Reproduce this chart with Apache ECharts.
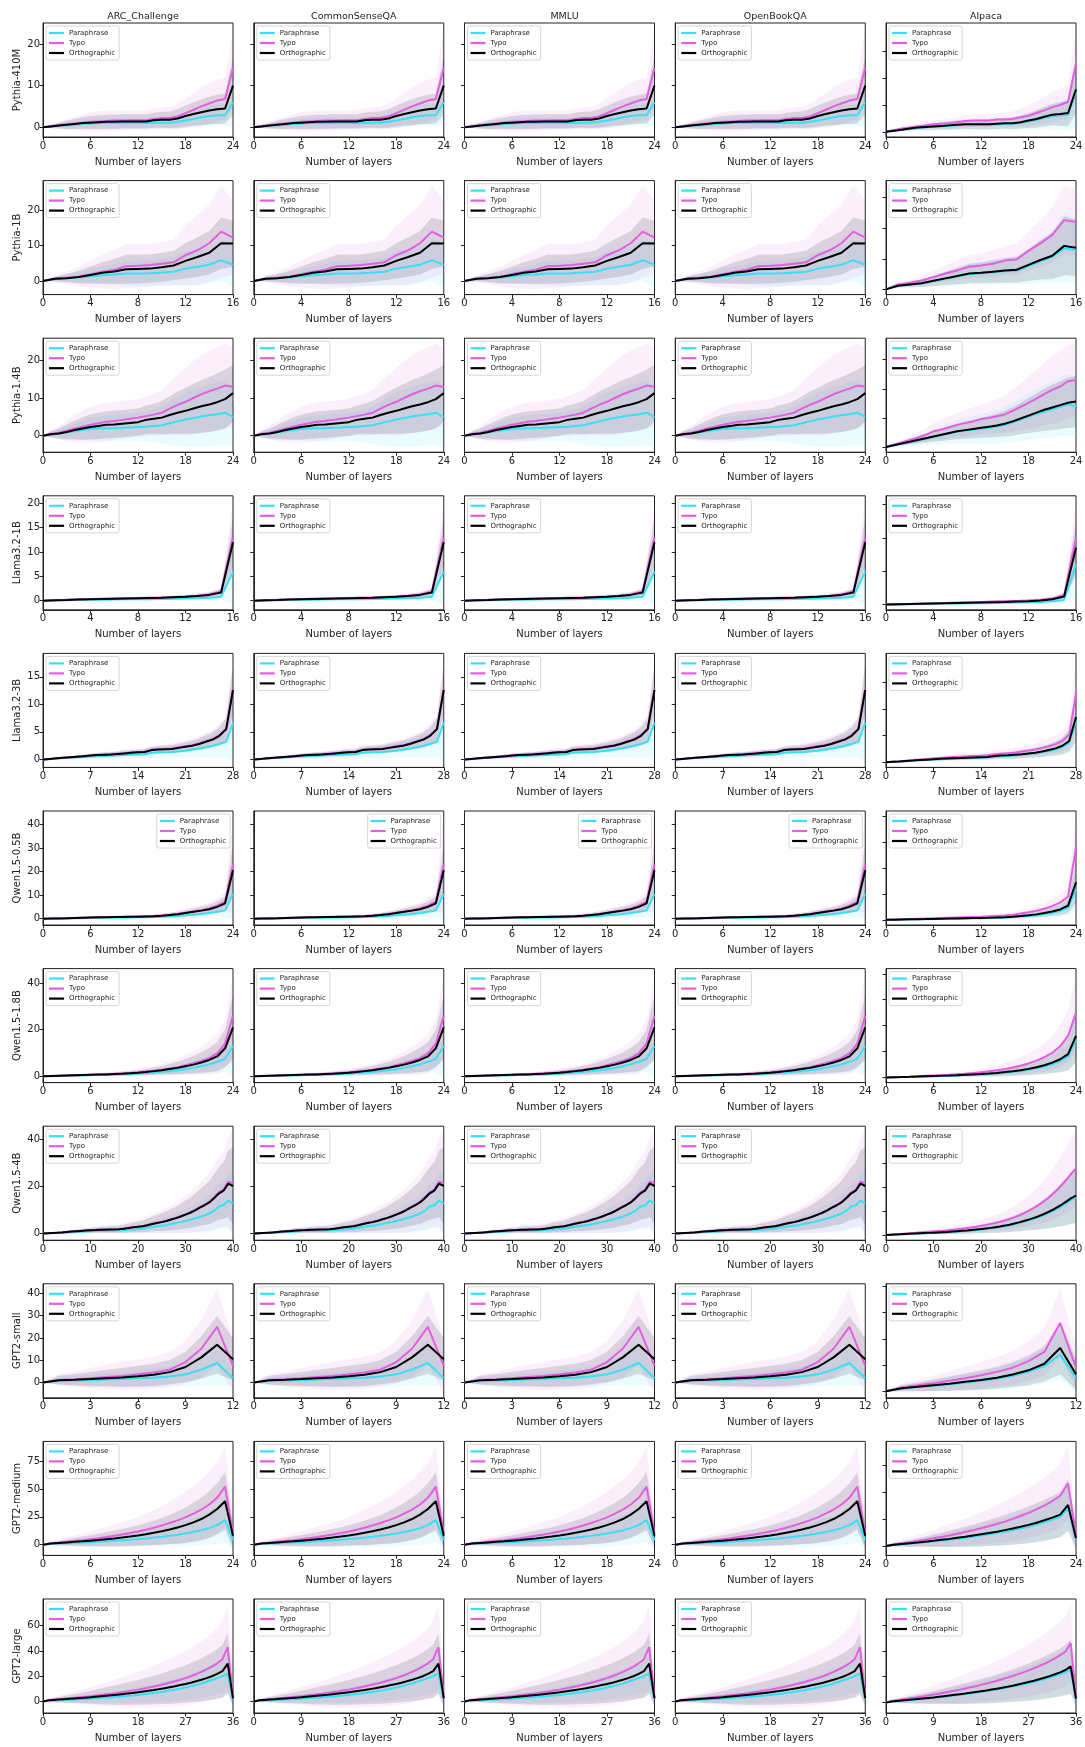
<!DOCTYPE html>
<html>
<head>
<meta charset="utf-8">
<script src="https://cdn.jsdelivr.net/npm/echarts@6/dist/echarts.min.js"></script>
<style>
  html, body { margin: 0; background: #fff; }
  #chart { width: 1085px; height: 1747px; }
</style>
</head>
<body>
<div id="chart"></div>
<script>
const TASKS  = ['ARC_Challenge', 'CommonSenseQA', 'MMLU', 'OpenBookQA', 'Alpaca'];
const MODELS = ['Pythia-410M', 'Pythia-1B', 'Pythia-1.4B', 'Llama3.2-1B', 'Llama3.2-3B',
                'Qwen1.5-0.5B', 'Qwen1.5-1.8B', 'Qwen1.5-4B', 'GPT2-small', 'GPT2-medium', 'GPT2-large'];
const LAYERS = [24, 16, 24, 16, 28, 24, 24, 40, 12, 24, 36];
const LEGEND_NAMES = ['Paraphrase', 'Typo', 'Orthographic'];

// y tick values (labels only drawn on the first column)
const Y_TICKS = [[0,10,20],[0,10,20],[0,10,20],[0,5,10,15,20],[0,5,10,15],[0,10,20,30,40],
                 [0,20,40],[0,20,40],[0,10,20,30,40],[0,25,50,75],[0,20,40,60]];
const Y_TICKS_ALPACA = [[0,5,10,15],[0,5,10,15],[0,5,10,15],[0,5,10,15],[0,5,10,15],[0,10,20,30,40],
                        [0,10,20,30,40],[0,10,20,30,40],[0,10,20,30,40],[0,25,50,75],[0,20,40,60]];

// ---- QA tasks (mean / std per layer) ----
const p410_para    = [0,0.2,0.4,0.5,0.6, 0.8,0.9,1.0,1.0,1.0, 1.0,1.0,1.0,1.0,1.0, 1.1,1.1,1.3,1.6,2.0, 2.4,2.7,2.9,2.9,6.0];
const p410_para_sd = [0,0.3,0.5,0.7,0.9, 1.0,1.1,1.2,1.2,1.3, 1.3,1.3,1.3,1.3,1.4, 1.4,1.5,1.6,1.8,2.0, 2.2,2.4,2.6,2.7,5.5];
const p410_typo    = [0,0.3,0.5,0.7,0.9, 1.1,1.3,1.4,1.5,1.6, 1.6,1.7,1.7,1.7,2.0, 2.2,2.2,2.6,3.4,4.2, 5.0,5.7,6.4,6.8,14.3];
const p410_typo_sd = [0,0.5,0.9,1.3,1.6, 2.0,2.3,2.5,2.5,2.4, 2.4,2.3,2.3,2.3,2.5, 2.6,2.7,3.0,3.5,4.0, 4.5,4.9,5.1,5.0,9.5];
const p410_orth    = [0,0.2,0.4,0.6,0.8, 1.0,1.1,1.2,1.3,1.3, 1.4,1.4,1.4,1.4,1.7, 1.8,1.8,2.1,2.7,3.2, 3.6,4.0,4.3,4.5,10.0];
const p410_orth_sd = [0,0.4,0.7,1.0,1.2, 1.4,1.6,1.7,1.7,1.7, 1.7,1.7,1.7,1.7,1.8, 1.9,2.0,2.2,2.5,2.8, 3.1,3.3,3.5,3.6,7.0];

const p1b_para    = [0,0.5,0.8,1.0,1.3, 1.6,1.8,2.1,2.1,2.2, 2.4,2.6,3.5,4.0,4.6, 5.9,4.6];
const p1b_para_sd = [0,0.6,1.0,1.5,2.0, 2.5,3.0,3.5,3.6,3.7, 3.8,4.0,4.8,5.0,5.2, 5.8,6.5];
const p1b_typo    = [0,0.6,0.9,1.2,1.9, 2.6,3.2,4.2,4.3,4.5, 4.9,5.3,7.3,8.7,10.7, 14.0,12.3];
const p1b_typo_sd = [0,1.0,1.8,2.8,3.8, 4.8,5.6,6.3,6.2,6.0, 6.2,6.4,8.5,10.0,11.0, 13.0,10.5];
const p1b_orth    = [0,0.6,0.8,1.1,1.7, 2.3,2.7,3.3,3.4,3.5, 3.9,4.4,5.7,6.8,8.0, 10.7,10.6];
const p1b_orth_sd = [0,0.7,1.2,1.8,2.4, 3.0,3.5,4.1,4.1,4.0, 4.1,4.2,5.0,5.6,6.2, 7.3,6.5];

const p14b_para    = [0,0.4,0.6,0.9,1.2, 1.5,1.8,1.9,2.0,2.0, 2.1,2.2,2.3,2.4,2.6, 2.8,3.3,3.8,4.3,4.7, 5.1,5.4,5.7,6.1,5.0];
const p14b_para_sd = [0,0.6,1.0,1.5,2.0, 2.5,3.0,3.2,3.4,3.5, 3.6,3.7,3.8,4.0,4.4, 5.0,5.8,6.6,7.2,7.6, 8.0,8.2,8.4,8.6,8.0];
const p14b_typo    = [0,0.5,0.8,1.3,1.9, 2.4,2.9,3.3,3.7,3.9, 4.2,4.5,4.8,5.2,5.6, 6.1,7.2,8.2,9.0,10.0, 11.0,11.8,12.5,13.3,13.0];
const p14b_typo_sd = [0,1.0,1.8,2.8,3.6, 4.3,4.8,5.0,5.1,5.1, 5.0,5.0,5.0,5.3,5.6, 6.0,7.0,8.0,9.0,9.8, 10.4,10.8,11.0,11.2,10.5];
const p14b_orth    = [0,0.4,0.6,1.0,1.5, 1.9,2.3,2.6,2.9,3.0, 3.2,3.4,3.6,4.2,4.5, 4.8,5.5,6.1,6.6,7.2, 7.8,8.3,8.9,9.7,11.3];
const p14b_orth_sd = [0,0.8,1.4,2.0,2.5, 3.0,3.3,3.5,3.6,3.6, 3.6,3.6,3.6,3.8,4.0, 4.4,5.0,5.6,6.1,6.6, 7.0,7.3,7.6,7.8,7.5];

const l1b_para    = [0,0.05,0.1,0.15,0.2, 0.22,0.25,0.28,0.3,0.32, 0.35,0.4,0.45,0.5,0.6, 0.8,6.0];
const l1b_para_sd = [0,0.05,0.08,0.1,0.12, 0.14,0.16,0.18,0.2,0.22, 0.24,0.27,0.3,0.35,0.4, 0.6,6.8];
const l1b_typo    = [0,0.1,0.2,0.3,0.35, 0.4,0.45,0.5,0.55,0.6, 0.65,0.75,0.85,1.0,1.3, 1.9,13.0];
const l1b_typo_sd = [0,0.05,0.1,0.12,0.15, 0.18,0.2,0.22,0.25,0.28, 0.3,0.35,0.4,0.45,0.55, 0.8,7.5];
const l1b_orth    = [0,0.1,0.15,0.25,0.3, 0.35,0.4,0.45,0.5,0.55, 0.6,0.7,0.8,0.95,1.2, 1.7,12.0];
const l1b_orth_sd = [0,0.05,0.08,0.1,0.12, 0.15,0.17,0.2,0.22,0.25, 0.27,0.3,0.35,0.4,0.5, 0.7,5.0];

const l3b_para    = [0,0.08,0.15,0.25,0.3, 0.4,0.45,0.55,0.6,0.65, 0.7,0.75,0.8,0.85,0.9, 0.95,1.2,1.25,1.3,1.35, 1.5,1.6,1.8,2.0,2.2, 2.5,2.8,3.2,6.7];
const l3b_para_sd = [0,0.08,0.15,0.22,0.28, 0.34,0.4,0.45,0.5,0.55, 0.58,0.62,0.66,0.7,0.74, 0.78,0.9,0.95,1.0,1.05, 1.15,1.25,1.4,1.55,1.75, 2.0,2.3,2.7,7.2];
const l3b_typo    = [0,0.1,0.2,0.3,0.4, 0.5,0.6,0.7,0.8,0.85, 0.95,1.05,1.15,1.25,1.35, 1.4,1.75,1.85,1.9,2.0, 2.2,2.4,2.6,2.9,3.3, 3.7,4.4,5.6,12.8];
const l3b_typo_sd = [0,0.1,0.15,0.2,0.25, 0.3,0.35,0.4,0.45,0.5, 0.52,0.55,0.6,0.62,0.65, 0.7,0.75,0.8,0.85,0.9, 1.0,1.1,1.2,1.3,1.5, 1.7,2.0,2.5,5.5];
const l3b_orth    = [0,0.1,0.2,0.3,0.4, 0.5,0.6,0.7,0.8,0.85, 0.9,1.0,1.1,1.2,1.3, 1.35,1.7,1.8,1.85,1.9, 2.1,2.3,2.5,2.8,3.2, 3.6,4.3,5.5,12.6];
const l3b_orth_sd = [0,0.08,0.12,0.16,0.2, 0.24,0.28,0.32,0.36,0.4, 0.42,0.44,0.48,0.5,0.52, 0.56,0.6,0.64,0.68,0.72, 0.8,0.88,0.96,1.05,1.2, 1.35,1.6,2.0,4.4];

const q05_para    = [0,0.03,0.06,0.1,0.15, 0.2,0.25,0.3,0.35,0.4, 0.45,0.5,0.55,0.6,0.65, 0.75,0.9,1.1,1.4,1.7, 2.0,2.4,2.9,3.4,10.5];
const q05_para_sd = [0,0.03,0.06,0.1,0.14, 0.18,0.22,0.26,0.3,0.34, 0.38,0.42,0.46,0.5,0.55, 0.62,0.75,0.9,1.1,1.35, 1.6,1.9,2.3,2.8,11.0];
const q05_typo    = [0,0.05,0.12,0.2,0.3, 0.4,0.5,0.6,0.65,0.7, 0.75,0.8,0.9,1.0,1.1, 1.3,1.6,2.0,2.5,3.0, 3.6,4.3,5.5,7.2,23.0];
const q05_typo_sd = [0,0.05,0.1,0.15,0.2, 0.25,0.3,0.35,0.4,0.45, 0.5,0.55,0.6,0.7,0.8, 0.9,1.1,1.3,1.6,1.9, 2.2,2.6,3.2,4.0,20.5];
const q05_orth    = [0,0.05,0.1,0.15,0.25, 0.35,0.45,0.55,0.6,0.65, 0.7,0.75,0.8,0.9,1.0, 1.2,1.5,1.9,2.4,2.9, 3.4,4.0,5.0,6.5,20.5];
const q05_orth_sd = [0,0.04,0.08,0.12,0.16, 0.2,0.24,0.28,0.32,0.36, 0.4,0.44,0.48,0.55,0.62, 0.7,0.85,1.0,1.2,1.4, 1.6,1.9,2.3,3.0,11.0];

const q18_para    = [0,0.05,0.12,0.2,0.28, 0.35,0.45,0.55,0.65,0.75, 0.9,1.0,1.2,1.4,1.6, 1.9,2.2,2.6,3.0,3.6, 4.3,5.1,6.2,7.5,13.0];
const q18_para_sd = [0,0.05,0.1,0.16,0.22, 0.28,0.35,0.42,0.5,0.58, 0.68,0.78,0.9,1.05,1.2, 1.4,1.65,1.95,2.3,2.7, 3.2,3.8,4.6,5.8,13.5];
const q18_typo    = [0,0.1,0.2,0.3,0.4, 0.5,0.6,0.75,0.9,1.05, 1.25,1.45,1.7,2.0,2.4, 2.8,3.3,3.9,4.7,5.6, 6.6,7.8,9.8,14.0,26.0];
const q18_typo_sd = [0,0.1,0.2,0.3,0.4, 0.5,0.6,0.7,0.8,0.95, 1.1,1.3,1.5,1.8,2.1, 2.5,3.0,3.5,4.2,5.0, 6.0,7.2,8.5,10.5,18.0];
const q18_orth    = [0,0.1,0.2,0.3,0.4, 0.5,0.6,0.7,0.8,0.95, 1.1,1.3,1.5,1.8,2.2, 2.6,3.1,3.6,4.3,5.0, 5.9,7.0,8.5,12.0,21.0];
const q18_orth_sd = [0,0.08,0.15,0.22,0.3, 0.38,0.45,0.52,0.6,0.7, 0.8,0.95,1.1,1.3,1.55, 1.85,2.2,2.6,3.1,3.7, 4.4,5.2,6.2,8.0,14.0];

const q4_para    = [0,0.08,0.15,0.22,0.3, 0.4,0.5,0.6,0.7,0.8, 0.9,1.0,1.05,1.1,1.15, 1.2,1.3,1.4,1.55,1.7, 1.85,2.0,2.4,2.7,3.0, 3.3,3.6,4.0,4.4,4.8, 5.3,5.8,6.4,7.0,7.7, 8.5,9.6,11.5,12.0,14.0, 12.8];
const q4_para_sd = [0,0.06,0.12,0.18,0.25, 0.32,0.4,0.48,0.55,0.62, 0.7,0.78,0.84,0.9,0.95, 1.0,1.1,1.2,1.35,1.5, 1.65,1.8,2.1,2.4,2.7, 3.0,3.3,3.7,4.1,4.5, 5.0,5.5,6.0,6.6,7.2, 7.8,8.6,9.5,10.0,11.5, 13.5];
const q4_typo    = [0,0.1,0.2,0.3,0.45, 0.6,0.8,0.95,1.1,1.25, 1.35,1.45,1.6,1.65,1.7, 1.75,1.85,2.05,2.35,2.65, 2.85,3.1,3.6,4.1,4.5, 4.9,5.4,6.0,6.6,7.3, 8.1,8.9,9.9,11.1,12.2, 13.4,15.3,17.5,18.7,22.0, 21.5];
const q4_typo_sd = [0,0.1,0.2,0.35,0.5, 0.65,0.8,0.95,1.1,1.25, 1.4,1.5,1.6,1.7,1.8, 1.9,2.0,2.2,2.5,2.8, 3.0,3.3,3.7,4.1,4.5, 5.0,5.5,6.0,6.6,7.2, 7.9,8.6,9.4,10.3,11.2, 12.2,13.6,15.0,16.0,19.0, 22.0];
const q4_orth    = [0,0.1,0.2,0.3,0.4, 0.6,0.75,0.9,1.05,1.2, 1.3,1.4,1.55,1.6,1.65, 1.7,1.8,2.0,2.3,2.6, 2.8,3.0,3.5,4.0,4.4, 4.8,5.3,5.9,6.5,7.2, 8.0,8.8,9.8,11.0,12.0, 13.2,15.0,17.0,18.2,21.2, 20.2];
const q4_orth_sd = [0,0.08,0.15,0.26,0.38, 0.5,0.6,0.7,0.82,0.94, 1.05,1.12,1.2,1.28,1.35, 1.42,1.5,1.65,1.88,2.1, 2.25,2.5,2.8,3.1,3.4, 3.75,4.1,4.5,5.0,5.4, 5.9,6.5,7.1,7.7,8.4, 9.2,10.2,11.2,12.0,14.2, 16.5];

const g2s_para    = [0,0.7,0.9,1.1,1.4, 1.6,1.9,2.2,2.7,3.7, 5.8,8.8,2.0];
const g2s_para_sd = [0,1.5,2.0,2.4,2.8, 3.2,3.6,4.0,4.5,5.3, 7.0,10.0,3.5];
const g2s_typo    = [0,1.2,1.5,2.0,2.5, 3.0,3.7,4.5,5.8,9.2, 15.2,25.0,7.5];
const g2s_typo_sd = [0,2.5,3.5,4.5,5.5, 6.3,6.8,7.2,7.8,9.5, 13.0,17.0,12.0];
const g2s_orth    = [0,1.1,1.3,1.6,2.0, 2.3,2.8,3.5,4.7,7.0, 11.3,17.0,10.5];
const g2s_orth_sd = [0,2.0,2.6,3.2,3.8, 4.3,4.7,5.0,5.4,6.8, 9.5,13.0,9.5];

const g2m_para    = [0,0.7,1.0,1.3,1.6, 1.9,2.2,2.6,3.0,3.4, 3.9,4.4,5.0,5.6,6.3, 7.0,7.9,8.9,10.0,11.3, 12.9,14.8,17.5,22.0,4.0];
const g2m_para_sd = [0,1,1.5,2,2.5, 3,3.5,4,4.5,5, 5.5,6,6.6,7.2,8, 8.8,9.6,10.5,11.5,12.5, 13.5,15,17,20,8];
const g2m_typo    = [0,1.2,1.8,2.5,3.2, 4.0,4.9,5.8,6.8,7.9, 9.1,10.4,11.8,13.4,15.2, 17.2,19.4,21.8,24.5,27.8, 31.5,36.0,42.0,52.0,10.0];
const g2m_typo_sd = [0,2,3,4,5, 6,7,8,9,10, 11,12,13,14.5,16, 17.5,19,21,23,25, 27,29.5,32,36,15];
const g2m_orth    = [0,1.0,1.5,2.0,2.5, 3.0,3.6,4.2,4.9,5.6, 6.4,7.3,8.3,9.4,10.6, 12.0,13.6,15.4,17.5,20.0, 23.0,27.0,32.0,39.0,8.0];
const g2m_orth_sd = [0,1.4,2.1,2.8,3.5, 4.2,4.9,5.6,6.3,7.0, 7.7,8.4,9.1,10,11, 12,13,14.5,16,17.5, 19,21,23,26,10];

const g2l_para    = [0,0.6,0.8,1.0,1.2, 1.4,1.6,1.8,2.0,2.2, 2.5,2.8,3.1,3.4,3.7, 4.0,4.4,4.8,5.2,5.7, 6.2,6.7,7.3,7.9,8.6, 9.3,10.1,11.0,12.0,13.1, 14.3,15.6,17.0,18.5,20.0, 22.0,2.0];
const g2l_para_sd = [0,0.8,1.1,1.4,1.7, 2.0,2.3,2.6,2.9,3.2, 3.5,3.8,4.1,4.4,4.7, 5.0,5.3,5.6,6.0,6.4, 6.8,7.2,7.6,8.0,8.4, 8.8,9.2,9.6,10.1,10.6, 11.1,11.6,12.2,12.8,13.5, 15.0,5.0];
const g2l_typo    = [0,1.0,1.4,1.8,2.2, 2.6,3.0,3.4,3.8,4.2, 4.7,5.2,5.7,6.2,6.8, 7.4,8.0,8.7,9.4,10.2, 11.0,11.9,12.8,13.8,14.9, 16.0,17.2,18.5,20.0,21.6, 23.4,25.4,27.6,30.2,33.5, 43.0,3.0];
const g2l_typo_sd = [0,1.5,2.2,2.9,3.6, 4.3,5.0,5.7,6.4,7.1, 7.8,8.6,9.4,10.2,11.0, 11.8,12.6,13.4,14.2,15.0, 15.8,16.6,17.4,18.2,19.0, 19.8,20.6,21.4,22.3,23.2, 24.2,25.3,26.5,28.0,30.0, 34.0,8.0];
const g2l_orth    = [0,0.9,1.2,1.5,1.8, 2.1,2.4,2.7,3.0,3.3, 3.7,4.1,4.5,4.9,5.3, 5.8,6.3,6.8,7.3,7.9, 8.5,9.1,9.8,10.5,11.3, 12.1,13.0,13.9,14.9,16.0, 17.2,18.5,20.0,21.8,24.0, 30.0,2.5];
const g2l_orth_sd = [0,1.1,1.6,2.1,2.6, 3.1,3.6,4.1,4.6,5.1, 5.6,6.2,6.8,7.3,7.8, 8.3,8.8,9.3,9.8,10.3, 10.8,11.3,11.8,12.4,13.0, 13.6,14.2,14.8,15.5,16.2, 17.0,17.8,18.7,19.7,21.0, 24.0,6.0];

// ---- Alpaca ----
const a_p410_para    = [0,0.2,0.4,0.55,0.7, 0.85,0.95,1.05,1.15,1.25, 1.3,1.3,1.3,1.3,1.4, 1.5,1.5,1.7,1.9,2.2, 2.6,2.9,3.1,3.2,7.4];
const a_p410_para_sd = [0,0.15,0.3,0.4,0.5, 0.6,0.7,0.75,0.8,0.85, 0.9,0.95,0.95,0.95,1.0, 1.05,1.1,1.25,1.45,1.7, 2.0,2.3,2.6,3.0,6.5];
const a_p410_typo    = [0,0.3,0.6,0.8,1.0, 1.2,1.4,1.5,1.6,1.8, 2.0,2.1,2.1,2.1,2.3, 2.3,2.4,2.7,3.0,3.5, 4.0,4.6,5.0,5.6,12.8];
const a_p410_typo_sd = [0,0.2,0.3,0.4,0.5, 0.6,0.7,0.8,0.9,1.0, 1.1,1.1,1.1,1.1,1.2, 1.3,1.4,1.6,1.9,2.2, 2.5,2.8,3.0,3.2,6.5];
const a_p410_orth    = [0,0.2,0.4,0.6,0.8, 0.9,1.0,1.1,1.2,1.3, 1.4,1.4,1.4,1.4,1.5, 1.6,1.6,1.8,2.1,2.4, 2.8,3.2,3.3,3.5,7.9];
const a_p410_orth_sd = [0,0.15,0.25,0.35,0.45, 0.55,0.6,0.7,0.75,0.8, 0.85,0.9,0.9,0.9,1.0, 1.0,1.1,1.2,1.4,1.6, 1.8,2.0,2.2,2.4,4.5];

const a_p1b_para    = [0,0.6,0.8,1.0,1.35, 1.75,2.1,2.5,2.6,2.8, 2.95,3.05,3.8,4.6,5.3, 6.7,6.4];
const a_p1b_para_sd = [0,0.3,0.45,0.6,0.85, 1.1,1.4,1.7,1.8,2.0, 2.2,2.3,2.9,3.5,4.3, 5.6,5.3];
const a_p1b_typo    = [0,0.8,1.1,1.45,2.0, 2.6,3.1,3.7,3.9,4.2, 4.7,4.9,6.3,7.5,8.9, 11.3,11.0];
const a_p1b_typo_sd = [0,0.3,0.5,0.7,1.0, 1.3,1.6,1.9,2.0,2.2, 2.4,2.6,3.2,3.8,4.5, 5.6,5.4];
const a_p1b_orth    = [0,0.6,0.8,1.0,1.4, 1.8,2.2,2.6,2.7,2.9, 3.1,3.2,4.0,4.8,5.5, 7.1,6.8];
const a_p1b_orth_sd = [0,0.3,0.45,0.6,0.85, 1.1,1.35,1.6,1.7,1.85, 2.0,2.1,2.6,3.2,3.8, 4.8,4.6];

const a_p14b_para    = [0,0.3,0.6,0.85,1.1, 1.4,1.7,2.0,2.3,2.6, 2.8,2.95,3.1,3.3,3.5, 3.8,4.2,4.7,5.2,5.7, 6.1,6.5,6.9,7.3,7.0];
const a_p14b_para_sd = [0,0.25,0.45,0.65,0.85, 1.05,1.3,1.55,1.8,2.0, 2.2,2.35,2.5,2.7,2.9, 3.1,3.4,3.7,4.0,4.3, 4.6,4.9,5.1,5.3,5.2];
const a_p14b_typo    = [0,0.4,0.8,1.2,1.6, 2.1,2.7,3.0,3.4,3.8, 4.1,4.4,4.8,5.0,5.3, 5.6,6.2,6.9,7.6,8.3, 9.1,9.8,10.4,11.3,11.5];
const a_p14b_typo_sd = [0,0.2,0.4,0.6,0.85, 1.1,1.4,1.7,1.9,2.1, 2.3,2.4,2.5,2.7,2.9, 3.2,3.6,4.0,4.5,5.0, 5.4,5.8,6.1,6.3,6.3];
const a_p14b_orth    = [0,0.3,0.6,0.9,1.2, 1.5,1.8,2.1,2.4,2.7, 2.9,3.1,3.3,3.5,3.7, 4.0,4.4,4.9,5.4,5.9, 6.4,6.8,7.2,7.6,7.8];
const a_p14b_orth_sd = [0,0.2,0.3,0.45,0.6, 0.75,0.9,1.05,1.2,1.35, 1.5,1.6,1.7,1.85,2.0, 2.2,2.45,2.7,3.0,3.3, 3.6,3.9,4.1,4.3,4.4];

const a_l1b_para    = [0,0.03,0.06,0.1,0.12, 0.15,0.17,0.2,0.22,0.25, 0.28,0.3,0.35,0.4,0.5, 0.7,6.0];
const a_l1b_para_sd = [0,0.02,0.04,0.06,0.08, 0.1,0.12,0.14,0.16,0.18, 0.2,0.22,0.25,0.28,0.32, 0.45,5.0];
const a_l1b_typo    = [0,0.05,0.1,0.15,0.2, 0.25,0.3,0.35,0.4,0.45, 0.5,0.55,0.6,0.7,0.9, 1.4,10.0];
const a_l1b_typo_sd = [0,0.03,0.06,0.08,0.1, 0.12,0.14,0.16,0.18,0.2, 0.22,0.25,0.28,0.32,0.4, 0.6,5.5];
const a_l1b_orth    = [0,0.04,0.08,0.12,0.16, 0.2,0.24,0.28,0.32,0.36, 0.4,0.45,0.5,0.6,0.8, 1.2,8.5];
const a_l1b_orth_sd = [0,0.02,0.05,0.07,0.09, 0.1,0.12,0.14,0.16,0.18, 0.2,0.22,0.25,0.28,0.35, 0.5,4.0];

const a_l3b_para    = [0,0.07,0.14,0.22,0.3, 0.37,0.44,0.5,0.58,0.64, 0.7,0.74,0.78,0.82,0.87, 0.92,1.05,1.15,1.2,1.3, 1.4,1.55,1.7,1.9,2.1, 2.4,2.9,3.7,7.8];
const a_l3b_para_sd = [0,0.04,0.08,0.12,0.16, 0.2,0.24,0.27,0.3,0.33, 0.36,0.38,0.4,0.42,0.45, 0.48,0.54,0.6,0.63,0.68, 0.73,0.8,0.88,0.98,1.1, 1.25,1.5,1.9,5.0];
const a_l3b_typo    = [0,0.1,0.2,0.3,0.4, 0.5,0.6,0.7,0.8,0.9, 1.0,1.05,1.1,1.15,1.2, 1.3,1.5,1.6,1.7,1.8, 2.0,2.2,2.4,2.7,3.0, 3.4,4.0,5.2,13.0];
const a_l3b_typo_sd = [0,0.05,0.1,0.15,0.2, 0.25,0.3,0.35,0.4,0.45, 0.5,0.52,0.55,0.58,0.6, 0.65,0.72,0.78,0.82,0.88, 0.95,1.05,1.15,1.3,1.45, 1.65,1.95,2.5,6.5];
const a_l3b_orth    = [0,0.08,0.15,0.25,0.32, 0.4,0.48,0.56,0.64,0.7, 0.76,0.8,0.85,0.9,0.95, 1.0,1.15,1.25,1.3,1.4, 1.5,1.65,1.8,2.0,2.3, 2.6,3.1,4.0,8.5];
const a_l3b_orth_sd = [0,0.04,0.08,0.12,0.16, 0.2,0.24,0.28,0.32,0.35, 0.38,0.4,0.42,0.45,0.48, 0.5,0.56,0.62,0.65,0.7, 0.75,0.82,0.9,1.0,1.15, 1.3,1.55,2.0,4.5];

const a_q05_para    = [0,0.05,0.1,0.15,0.2, 0.26,0.32,0.38,0.43,0.48, 0.53,0.58,0.64,0.7,0.78, 0.88,1.05,1.25,1.5,1.8, 2.2,2.7,3.4,4.6,12.0];
const a_q05_para_sd = [0,0.03,0.06,0.09,0.12, 0.15,0.18,0.21,0.24,0.27, 0.3,0.33,0.36,0.4,0.45, 0.5,0.6,0.72,0.86,1.05, 1.3,1.6,2.0,2.7,9.0];
const a_q05_typo    = [0,0.1,0.2,0.3,0.4, 0.5,0.6,0.7,0.8,0.9, 1.0,1.1,1.2,1.35,1.5, 1.7,2.0,2.4,2.9,3.5, 4.3,5.3,6.7,9.0,28.0];
const a_q05_typo_sd = [0,0.05,0.1,0.15,0.2, 0.25,0.3,0.35,0.4,0.45, 0.5,0.55,0.6,0.7,0.8, 0.9,1.05,1.25,1.5,1.8, 2.2,2.7,3.3,4.3,12.0];
const a_q05_orth    = [0,0.05,0.12,0.18,0.25, 0.3,0.36,0.42,0.48,0.54, 0.6,0.66,0.72,0.8,0.9, 1.0,1.2,1.45,1.75,2.1, 2.6,3.2,4.0,5.5,14.5];
const a_q05_orth_sd = [0,0.03,0.06,0.1,0.13, 0.16,0.2,0.23,0.26,0.3, 0.33,0.36,0.4,0.45,0.5, 0.57,0.67,0.8,0.95,1.15, 1.4,1.75,2.2,3.0,8.0];

const a_q18_para    = [0,0.07,0.14,0.21,0.29, 0.38,0.47,0.56,0.66,0.77, 0.9,1.03,1.17,1.35,1.57, 1.83,2.15,2.5,2.95,3.5, 4.2,5.1,6.3,8.1,14.5];
const a_q18_para_sd = [0,0.05,0.1,0.15,0.2, 0.26,0.32,0.38,0.45,0.52, 0.6,0.69,0.79,0.9,1.04, 1.2,1.4,1.62,1.9,2.25, 2.7,3.25,4.0,5.2,9.5];
const a_q18_typo    = [0,0.1,0.2,0.3,0.45, 0.6,0.75,0.9,1.05,1.25, 1.45,1.7,2.0,2.35,2.75, 3.2,3.8,4.5,5.4,6.5, 7.8,9.5,12.0,16.0,25.0];
const a_q18_typo_sd = [0,0.08,0.15,0.23,0.32, 0.42,0.52,0.63,0.75,0.88, 1.02,1.2,1.4,1.65,1.95, 2.3,2.7,3.2,3.8,4.6, 5.5,6.6,8.0,10.0,15.0];
const a_q18_orth    = [0,0.08,0.15,0.23,0.32, 0.42,0.52,0.62,0.73,0.85, 1.0,1.15,1.3,1.5,1.75, 2.05,2.4,2.8,3.3,3.9, 4.7,5.7,7.0,9.0,16.0];
const a_q18_orth_sd = [0,0.06,0.11,0.17,0.23, 0.3,0.37,0.45,0.53,0.62, 0.72,0.83,0.95,1.1,1.28, 1.5,1.75,2.05,2.4,2.85, 3.4,4.1,5.0,6.4,10.0];

const a_q4_para    = [0,0.1,0.19,0.28,0.37, 0.46,0.55,0.64,0.73,0.82, 0.91,1.0,1.1,1.2,1.33, 1.46,1.6,1.75,1.93,2.12, 2.32,2.55,2.8,3.08,3.38, 3.72,4.1,4.52,5.0,5.52, 6.1,6.72,7.4,8.15,9.0, 9.95,11.0,12.15,13.4,14.8, 15.8];
const a_q4_para_sd = [0,0.07,0.13,0.2,0.26, 0.33,0.39,0.46,0.52,0.59, 0.65,0.72,0.79,0.86,0.95, 1.05,1.15,1.26,1.38,1.51, 1.65,1.8,1.97,2.16,2.37, 2.6,2.86,3.15,3.48,3.85, 4.25,4.7,5.2,5.75,6.35, 7.0,7.75,8.6,9.5,10.5, 11.2];
const a_q4_typo    = [0,0.15,0.3,0.45,0.6, 0.75,0.9,1.05,1.2,1.35, 1.5,1.65,1.8,2.0,2.2, 2.4,2.65,2.9,3.2,3.5, 3.85,4.2,4.6,5.05,5.55, 6.1,6.7,7.4,8.2,9.1, 10.1,11.2,12.4,13.8,15.3, 17.0,18.9,21.0,23.3,25.8, 28.0];
const a_q4_typo_sd = [0,0.1,0.2,0.3,0.4, 0.5,0.6,0.7,0.8,0.9, 1.0,1.1,1.2,1.3,1.45, 1.6,1.75,1.9,2.1,2.3, 2.5,2.75,3.0,3.3,3.6, 3.95,4.35,4.8,5.3,5.85, 6.45,7.1,7.8,8.6,9.5, 10.5,11.6,12.8,14.1,15.0, 15.5];
const a_q4_orth    = [0,0.1,0.2,0.3,0.4, 0.5,0.6,0.7,0.8,0.9, 1.0,1.1,1.2,1.3,1.45, 1.6,1.75,1.9,2.1,2.3, 2.5,2.75,3.0,3.3,3.6, 3.95,4.35,4.8,5.3,5.85, 6.45,7.1,7.8,8.6,9.5, 10.5,11.6,12.8,14.1,15.5, 16.5];
const a_q4_orth_sd = [0,0.07,0.14,0.21,0.28, 0.35,0.42,0.49,0.56,0.63, 0.7,0.77,0.84,0.92,1.02, 1.12,1.23,1.34,1.47,1.61, 1.75,1.92,2.1,2.3,2.52, 2.76,3.04,3.36,3.7,4.1, 4.5,5.0,5.45,6.0,6.65, 7.35,8.1,9.0,9.9,10.8, 11.5];

const a_g2s_para    = [0,1.1,1.6,2.1,2.7, 3.3,4.0,4.8,5.9,7.4, 9.6,14.0,5.0];
const a_g2s_para_sd = [0,1.1,1.6,2.1,2.6, 3.1,3.6,4.1,4.7,5.5, 6.6,9.5,5.5];
const a_g2s_typo    = [0,1.5,2.3,3.1,4.0, 5.0,6.1,7.4,9.0,11.5, 15.0,26.0,9.0];
const a_g2s_typo_sd = [0,1.5,2.2,2.9,3.6, 4.3,5.0,5.7,6.5,7.6, 9.0,13.0,8.0];
const a_g2s_orth    = [0,1.2,1.7,2.3,2.9, 3.6,4.3,5.2,6.4,8.0, 10.5,16.5,6.5];
const a_g2s_orth_sd = [0,1.2,1.7,2.2,2.7, 3.2,3.7,4.2,4.8,5.6, 6.8,10.0,6.0];

const a_g2m_para    = [0,0.9,1.5,2.1,2.8, 3.5,4.2,5.0,5.8,6.7, 7.6,8.6,9.6,10.7,11.9, 13.2,14.6,16.1,17.8,19.7, 21.8,24.2,27.0,35.0,6.0];
const a_g2m_para_sd = [0,1.2,2.0,2.8,3.6, 4.4,5.2,6.0,6.8,7.6, 8.4,9.2,10.0,10.8,11.6, 12.5,13.4,14.3,15.2,16.1, 17.0,18.0,19.0,22.0,9.0];
const a_g2m_typo    = [0,1.5,2.5,3.5,4.6, 5.8,7.0,8.3,9.7,11.2, 12.8,14.5,16.3,18.2,20.3, 22.5,25.0,27.7,30.6,33.8, 37.4,41.5,46.5,58.0,10.0];
const a_g2m_typo_sd = [0,1.8,3.0,4.2,5.4, 6.6,7.8,9.0,10.2,11.4, 12.6,13.8,15.0,16.2,17.5, 18.8,20.2,21.6,23.0,24.5, 26.0,27.6,29.5,34.0,14.0];
const a_g2m_orth    = [0,1.0,1.7,2.4,3.1, 3.9,4.7,5.6,6.5,7.5, 8.5,9.6,10.7,11.9,13.2, 14.6,16.1,17.7,19.5,21.5, 23.7,26.2,29.0,38.0,7.0];
const a_g2m_orth_sd = [0,1.3,2.2,3.1,4.0, 4.9,5.8,6.7,7.6,8.5, 9.4,10.3,11.2,12.1,13.0, 14.0,15.0,16.0,17.0,18.0, 19.0,20.0,21.0,24.0,10.0];

const a_g2l_para    = [0,0.7,1.1,1.5,1.9, 2.3,2.6,3.0,3.4,3.8, 4.2,4.6,5.1,5.6,6.1, 6.6,7.1,7.7,8.3,8.9, 9.5,10.2,10.9,11.6,12.4, 13.2,14.1,15.0,16.0,17.0, 18.1,19.3,20.6,22.0,23.5, 25.5,2.5];
const a_g2l_para_sd = [0,0.9,1.4,1.9,2.3, 2.7,3.1,3.5,3.9,4.3, 4.7,5.1,5.5,6.0,6.5, 7.0,7.5,8.0,8.5,9.0, 9.5,10.0,10.5,11.0,11.5, 12.0,12.5,13.0,13.6,14.2, 14.8,15.4,16.0,16.7,17.5, 19.0,5.0];
const a_g2l_typo    = [0,1.2,1.8,2.4,3.0, 3.6,4.2,4.8,5.5,6.2, 6.9,7.6,8.4,9.2,10.0, 10.9,11.8,12.7,13.7,14.7, 15.8,16.9,18.1,19.3,20.6, 22.0,23.4,24.9,26.5,28.2, 30.0,32.0,34.2,36.6,39.5, 46.0,4.0];
const a_g2l_typo_sd = [0,1.3,2.0,2.7,3.4, 4.1,4.8,5.5,6.2,6.9, 7.6,8.3,9.0,9.7,10.4, 11.1,11.8,12.5,13.2,13.9, 14.6,15.3,16.0,16.8,17.6, 18.4,19.2,20.0,20.9,21.8, 22.8,23.8,24.8,26.0,27.2, 30.0,8.0];
const a_g2l_orth    = [0,0.8,1.2,1.6,2.0, 2.4,2.8,3.2,3.6,4.0, 4.5,5.0,5.5,6.0,6.5, 7.0,7.6,8.2,8.8,9.4, 10.1,10.8,11.5,12.3,13.1, 14.0,14.9,15.9,16.9,18.0, 19.2,20.5,21.9,23.4,25.2, 28.0,3.0];
const a_g2l_orth_sd = [0,1.0,1.5,2.0,2.5, 3.0,3.5,4.0,4.5,5.0, 5.5,6.0,6.5,7.0,7.5, 8.0,8.5,9.0,9.5,10.0, 10.5,11.0,11.5,12.0,12.6, 13.2,13.8,14.4,15.0,15.7, 16.4,17.1,17.8,18.6,19.5, 21.0,6.0];

// per row: [para, para_sd, typo, typo_sd, orth, orth_sd]
const MAIN = [
  [p410_para, p410_para_sd, p410_typo, p410_typo_sd, p410_orth, p410_orth_sd],
  [p1b_para, p1b_para_sd, p1b_typo, p1b_typo_sd, p1b_orth, p1b_orth_sd],
  [p14b_para, p14b_para_sd, p14b_typo, p14b_typo_sd, p14b_orth, p14b_orth_sd],
  [l1b_para, l1b_para_sd, l1b_typo, l1b_typo_sd, l1b_orth, l1b_orth_sd],
  [l3b_para, l3b_para_sd, l3b_typo, l3b_typo_sd, l3b_orth, l3b_orth_sd],
  [q05_para, q05_para_sd, q05_typo, q05_typo_sd, q05_orth, q05_orth_sd],
  [q18_para, q18_para_sd, q18_typo, q18_typo_sd, q18_orth, q18_orth_sd],
  [q4_para, q4_para_sd, q4_typo, q4_typo_sd, q4_orth, q4_orth_sd],
  [g2s_para, g2s_para_sd, g2s_typo, g2s_typo_sd, g2s_orth, g2s_orth_sd],
  [g2m_para, g2m_para_sd, g2m_typo, g2m_typo_sd, g2m_orth, g2m_orth_sd],
  [g2l_para, g2l_para_sd, g2l_typo, g2l_typo_sd, g2l_orth, g2l_orth_sd]
];
const ALPACA = [
  [a_p410_para, a_p410_para_sd, a_p410_typo, a_p410_typo_sd, a_p410_orth, a_p410_orth_sd],
  [a_p1b_para, a_p1b_para_sd, a_p1b_typo, a_p1b_typo_sd, a_p1b_orth, a_p1b_orth_sd],
  [a_p14b_para, a_p14b_para_sd, a_p14b_typo, a_p14b_typo_sd, a_p14b_orth, a_p14b_orth_sd],
  [a_l1b_para, a_l1b_para_sd, a_l1b_typo, a_l1b_typo_sd, a_l1b_orth, a_l1b_orth_sd],
  [a_l3b_para, a_l3b_para_sd, a_l3b_typo, a_l3b_typo_sd, a_l3b_orth, a_l3b_orth_sd],
  [a_q05_para, a_q05_para_sd, a_q05_typo, a_q05_typo_sd, a_q05_orth, a_q05_orth_sd],
  [a_q18_para, a_q18_para_sd, a_q18_typo, a_q18_typo_sd, a_q18_orth, a_q18_orth_sd],
  [a_q4_para, a_q4_para_sd, a_q4_typo, a_q4_typo_sd, a_q4_orth, a_q4_orth_sd],
  [a_g2s_para, a_g2s_para_sd, a_g2s_typo, a_g2s_typo_sd, a_g2s_orth, a_g2s_orth_sd],
  [a_g2m_para, a_g2m_para_sd, a_g2m_typo, a_g2m_typo_sd, a_g2m_orth, a_g2m_orth_sd],
  [a_g2l_para, a_g2l_para_sd, a_g2l_typo, a_g2l_typo_sd, a_g2l_orth, a_g2l_orth_sd]
];

const LINE_COLORS = ['#35e2f5', '#e45ee2', '#000000'];
const BAND_COLORS = ['rgba(53,226,245,0.10)', 'rgba(228,94,226,0.10)', 'rgba(25,25,45,0.14)'];
const FONT = 'DejaVu Sans';
const INK  = '#222';

const COL_X = [43, 253.75, 464.5, 675.25, 886];
const PW = 190, PH = 114;
const rowY = r => 23 + r * 157.6;

const chart = echarts.init(document.getElementById('chart'));

const option = {
    animation: false,
    backgroundColor: '#fff',
    textStyle: { fontFamily: FONT, color: INK },
    title: [], grid: [], xAxis: [], yAxis: [], legend: [], series: []
};

TASKS.forEach((t, c) => {
    option.title.push({
        text: t, left: COL_X[c] + PW / 2, top: 7, textAlign: 'center',
        textStyle: { fontFamily: FONT, fontSize: 9.5, fontWeight: 'normal', color: INK }
    });
});

MODELS.forEach((model, r) => {
    const n = LAYERS[r];
    TASKS.forEach((task, c) => {
        const k = option.grid.length;
        const d = c === 4 ? ALPACA[r] : MAIN[r];

        // y range like matplotlib autoscale: data (incl. bands) + 5% margin
        let lo = Infinity, hi = -Infinity;
        for (let s = 0; s < 3; s++) {
            const m = d[2 * s], sd = d[2 * s + 1];
            m.forEach((v, i) => { lo = Math.min(lo, v - sd[i]); hi = Math.max(hi, v + sd[i]); });
        }
        const pad = (hi - lo) * 0.05;
        const yMin = lo - pad, yMax = hi + pad;
        const ticks = (c === 4 ? Y_TICKS_ALPACA[r] : Y_TICKS[r]).filter(v => v >= yMin && v <= yMax);

        option.grid.push({
            left: COL_X[c], top: rowY(r), width: PW, height: PH,
            show: true, borderColor: INK, borderWidth: 1, backgroundColor: 'transparent',
            outerBoundsMode: 'none'
        });

        option.xAxis.push({
            type: 'value', gridIndex: k, min: 0, max: n, interval: n / 4,
            axisLine: { show: true, onZero: false, lineStyle: { color: INK, width: 1 } },
            axisTick: { show: true, length: 3.5, lineStyle: { color: INK } },
            axisLabel: { fontSize: 10, color: INK, margin: 4, fontFamily: FONT },
            splitLine: { show: false },
            name: 'Number of layers', nameLocation: 'middle', nameGap: 20, nameMoveOverlap: false,
            nameTextStyle: { fontSize: 10, color: INK, fontFamily: FONT }
        });

        option.yAxis.push({
            type: 'value', gridIndex: k, min: yMin, max: yMax,
            axisLine: { show: true, onZero: false, lineStyle: { color: INK, width: 1 } },
            axisTick: { show: true, length: 3.5, lineStyle: { color: INK }, customValues: ticks },
            axisLabel: { show: c === 0, fontSize: 10, color: INK, margin: 3, fontFamily: FONT, customValues: ticks },
            splitLine: { show: false },
            name: c === 0 ? model : '', nameLocation: 'middle', nameGap: 21, nameMoveOverlap: false,
            nameTextStyle: { fontSize: 10, color: INK, fontFamily: FONT }
        });

        const legendRight = (r === 5 && c < 4);
        const lg = {
            orient: 'vertical', top: rowY(r) + 3,
            data: LEGEND_NAMES, icon: 'rect', itemWidth: 15, itemHeight: 2.2, itemGap: 2,
            padding: [3, 4, 3, 3], borderColor: '#cccccc', borderWidth: 0.8, borderRadius: 2,
            backgroundColor: 'rgba(255,255,255,0.85)', selectedMode: false,
            textStyle: { fontSize: 7, color: INK, fontFamily: FONT, lineHeight: 8 }
        };
        if (legendRight) lg.right = 1085 - (COL_X[c] + PW) + 3;
        else lg.left = COL_X[c] + 3;
        option.legend.push(lg);

        // shaded std bands
        for (let s = 0; s < 3; s++) {
            const m = d[2 * s], sd = d[2 * s + 1];
            option.series.push({
                type: 'custom', name: 'band', xAxisIndex: k, yAxisIndex: k, silent: true, z: 1,
                data: m.map((v, i) => [i, v - sd[i], v + sd[i]]),
                encode: { x: 0, y: [1, 2] },
                renderItem: (params, api) => {
                    if (params.dataIndex !== 0) return null;
                    const pts = m.map((v, i) => api.coord([i, v + sd[i]]));
                    for (let i = m.length - 1; i >= 0; i--) pts.push(api.coord([i, m[i] - sd[i]]));
                    return { type: 'polygon', shape: { points: pts }, style: { fill: BAND_COLORS[s] } };
                }
            });
        }
        // mean lines
        for (let s = 0; s < 3; s++) {
            const m = d[2 * s];
            option.series.push({
                type: 'line', name: LEGEND_NAMES[s], xAxisIndex: k, yAxisIndex: k,
                data: m.map((v, i) => [i, v]), symbol: 'none', silent: true, z: 2,
                lineStyle: { width: 2, color: LINE_COLORS[s] },
                itemStyle: { color: LINE_COLORS[s] }
            });
        }
    });
});

chart.setOption(option);
window.addEventListener('resize', () => chart.resize());
</script>
</body>
</html>
